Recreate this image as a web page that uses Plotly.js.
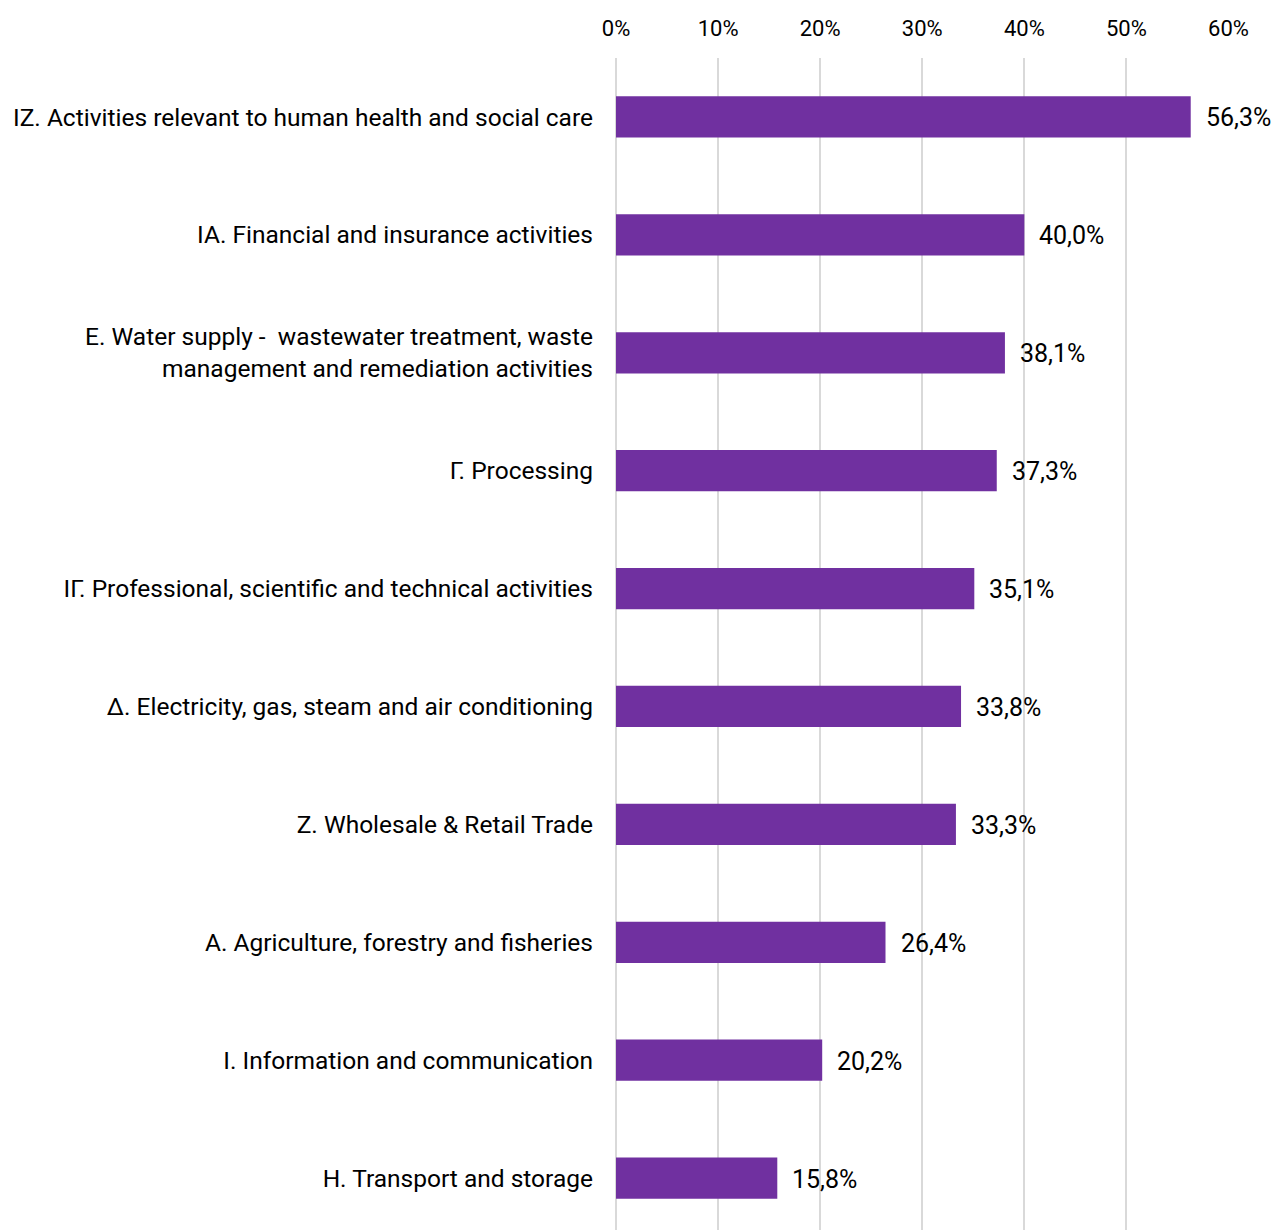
<!DOCTYPE html>
<html>
<head>
<meta charset="utf-8">
<script src="https://cdn.plot.ly/plotly-3.0.1.min.js"></script>
<style>
  html, body { margin: 0; padding: 0; background: #fff; }
  #chart { width: 1276px; height: 1230px; }
</style>
</head>
<body>
<div id="chart"></div>
<script>
// Share of enterprises by economic activity (top to bottom)
const sectors = [
  "IZ. Activities relevant to human health and social care",
  "IA. Financial and insurance activities",
  "E. Water supply - \u00a0wastewater treatment, waste<br>management and remediation activities",
  "Γ. Processing",
  "IΓ. Professional, scientific and technical activities",
  "Δ. Electricity, gas, steam and air conditioning",
  "Z. Wholesale & Retail Trade",
  "A. Agriculture, forestry and fisheries",
  "I. Information and communication",
  "H. Transport and storage"
];
const shares = [56.3, 40.0, 38.1, 37.3, 35.1, 33.8, 33.3, 26.4, 20.2, 15.8];
const tickValues = [0, 10, 20, 30, 40, 50, 60];
const tickLabels = ["0%", "10%", "20%", "30%", "40%", "50%", "60%"];

const FONT = "'Roboto', sans-serif";
const fmt = v => v.toFixed(1).replace(".", ",") + "%";

const trace = {
  type: "bar",
  orientation: "h",
  x: shares,
  y: sectors,
  marker: { color: "#7030A0" },
  hoverinfo: "skip"
};

const labels = shares.map((v, i) => ({
  x: v,
  y: sectors[i],
  xref: "x",
  yref: "y",
  text: fmt(v),
  showarrow: false,
  xanchor: "left",
  yanchor: "middle",
  xshift: 13,
  yshift: -1,
  font: { family: FONT, size: 25, color: "#000" }
}));

const layout = {
  width: 1276,
  height: 1230,
  margin: { l: 616, r: 47, t: 58, b: 0 },
  paper_bgcolor: "#fff",
  plot_bgcolor: "#fff",
  showlegend: false,
  bargap: 0.65,
  font: { family: FONT, size: 24, color: "#000" },
  xaxis: {
    side: "top",
    range: [0, 60.05],
    tickvals: tickValues,
    ticktext: tickLabels,
    showgrid: true,
    gridcolor: "#d9d9d9",
    gridwidth: 2,
    zeroline: true,
    zerolinecolor: "#d9d9d9",
    zerolinewidth: 2,
    showline: false,
    ticks: "",
    ticklabelstandoff: 17,
    tickfont: { family: FONT, size: 22, color: "#000" }
  },
  yaxis: {
    type: "category",
    range: [9.44, -0.5],
    showgrid: false,
    zeroline: false,
    showline: false,
    ticks: "",
    ticklabelstandoff: 22,
    tickfont: { family: FONT, size: 24.5, color: "#000" }
  },
  annotations: labels
};

Plotly.newPlot("chart", [trace], layout, { displayModeBar: false, staticPlot: true });
</script>
</body>
</html>
